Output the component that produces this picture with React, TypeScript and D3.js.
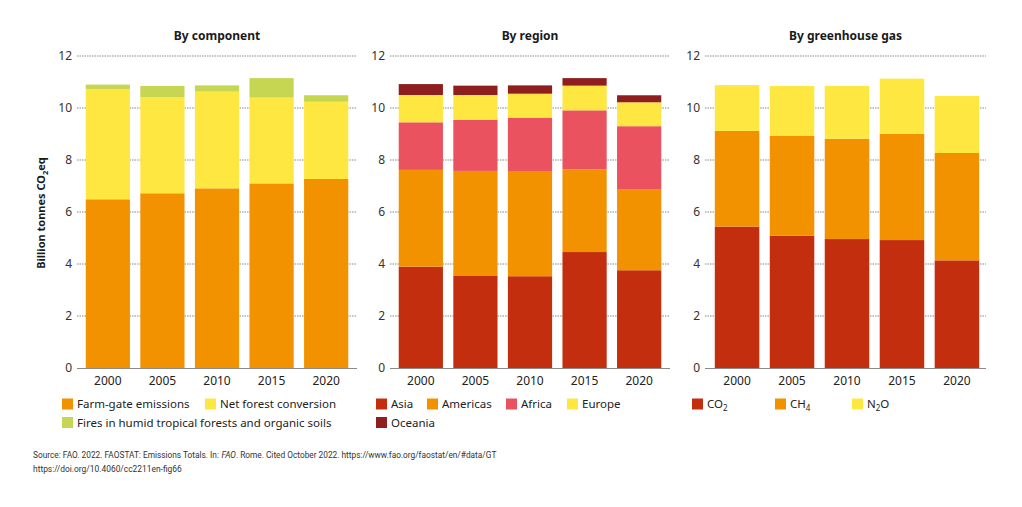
import React, { useRef, useEffect } from "react"
import * as d3 from "d3"

const years = ["2000", "2005", "2010", "2015", "2020"]
const yTicks = [0, 2, 4, 6, 8, 10, 12]

// By component
const farmGate = [6.49, 6.72, 6.91, 7.1, 7.27]
const netForest = [4.23, 3.69, 3.72, 3.3, 2.97]
const fires = [0.18, 0.44, 0.24, 0.75, 0.25]

// By region
const asia = [3.9, 3.56, 3.53, 4.46, 3.76]
const americas = [3.72, 4.02, 4.02, 3.18, 3.1]
const africa = [1.83, 1.97, 2.08, 2.27, 2.44]
const europe = [1.05, 0.95, 0.92, 0.95, 0.92]
const oceania = [0.42, 0.36, 0.32, 0.29, 0.27]

// By greenhouse gas
const co2 = [5.44, 5.09, 4.96, 4.92, 4.14]
const ch4 = [3.68, 3.85, 3.86, 4.09, 4.13]
const n2o = [1.76, 1.91, 2.03, 2.12, 2.19]

const sourceParts = [
  { text: "Source: FAO. 2022. FAOSTAT: Emissions Totals. In: ", italic: false },
  { text: "FAO", italic: true },
  { text: ". Rome. Cited October 2022. https://www.fao.org/faostat/en/#data/GT", italic: false },
]
const doiLine = "https://doi.org/10.4060/cc2211en-fig66"

const ORANGE = "#F39200"
const YELLOW = "#FFE742"
const GREEN = "#C6D653"
const RED = "#C32E0E"
const PINK = "#EB5260"
const DARKRED = "#8F1F1E"

type Series = { key: string; label: string; sub?: string; after?: string; color: string; values: number[] }
type LegendPos = { x: number; row: number }
type Panel = {
  title: string
  grid: [number, number]
  band: [number, number]
  series: Series[]
  legend: LegendPos[]
}

const panels: Panel[] = [
  {
    title: "By component",
    grid: [77, 357],
    band: [77, 357],
    series: [
      { key: "farm", label: "Farm-gate emissions", color: ORANGE, values: farmGate },
      { key: "forest", label: "Net forest conversion", color: YELLOW, values: netForest },
      { key: "fires", label: "Fires in humid tropical forests and organic soils", color: GREEN, values: fires },
    ],
    legend: [
      { x: 62, row: 0 },
      { x: 205, row: 0 },
      { x: 62, row: 1 },
    ],
  },
  {
    title: "By region",
    grid: [390, 670],
    band: [390, 670],
    series: [
      { key: "asia", label: "Asia", color: RED, values: asia },
      { key: "americas", label: "Americas", color: ORANGE, values: americas },
      { key: "africa", label: "Africa", color: PINK, values: africa },
      { key: "europe", label: "Europe", color: YELLOW, values: europe },
      { key: "oceania", label: "Oceania", color: DARKRED, values: oceania },
    ],
    legend: [
      { x: 376, row: 0 },
      { x: 427, row: 0 },
      { x: 506, row: 0 },
      { x: 567, row: 0 },
      { x: 376, row: 1 },
    ],
  },
  {
    title: "By greenhouse gas",
    grid: [705, 986],
    band: [706, 988],
    series: [
      { key: "co2", label: "CO", sub: "2", after: "", color: RED, values: co2 },
      { key: "ch4", label: "CH", sub: "4", after: "", color: ORANGE, values: ch4 },
      { key: "n2o", label: "N", sub: "2", after: "O", color: YELLOW, values: n2o },
    ],
    legend: [
      { x: 692, row: 0 },
      { x: 775, row: 0 },
      { x: 852, row: 0 },
    ],
  },
]

const FONT = "'Noto Sans', 'DejaVu Sans', sans-serif"
const NARROW = "'Liberation Sans Narrow', 'Roboto', sans-serif"
const W = 1022
const H = 507

function drawChart(svgEl: SVGSVGElement) {
  const svg = d3.select(svgEl)
  svg.selectAll("*").remove()

  const y = d3.scaleLinear().domain([0, 12]).range([368, 56])

  panels.forEach(panel => {
    const g = svg.append("g")
    const [gx0, gx1] = panel.grid

    const x = d3
      .scaleBand<string>()
      .domain(years)
      .range(panel.band)
      .paddingInner(0.19)
      .paddingOuter(0.16)

    // title
    g.append("text")
      .attr("x", (gx0 + gx1) / 2)
      .attr("y", 40)
      .attr("text-anchor", "middle")
      .attr("font-family", FONT)
      .attr("font-weight", 700)
      .attr("font-size", 12)
      .attr("fill", "#1a1a1a")
      .text(panel.title)

    // grid lines + y labels
    yTicks.forEach(t => {
      if (t > 0) {
        g.append("line")
          .attr("x1", gx0)
          .attr("x2", gx1)
          .attr("y1", y(t))
          .attr("y2", y(t))
          .attr("stroke", "#6b6b6b")
          .attr("stroke-width", 0.8)
          .attr("stroke-dasharray", "1.5,1")
      }
      g.append("text")
        .attr("x", gx0 - 5)
        .attr("y", y(t))
        .attr("dy", "0.35em")
        .attr("text-anchor", "end")
        .attr("font-family", FONT)
        .attr("font-size", 12)
        .attr("fill", "#333")
        .text(t)
    })

    // stacked bars
    const rows = years.map((yr, i) => {
      const row: any = { year: yr }
      panel.series.forEach(s => (row[s.key] = s.values[i]))
      return row
    })
    const stacked = d3.stack<any>().keys(panel.series.map(s => s.key))(rows)

    stacked.forEach((layer, li) => {
      g.append("g")
        .attr("fill", panel.series[li].color)
        .selectAll("rect")
        .data(layer)
        .join("rect")
        .attr("x", d => x(d.data.year) as number)
        .attr("width", x.bandwidth())
        .attr("y", d => y(d[1]))
        .attr("height", d => y(d[0]) - y(d[1]))
    })

    // baseline
    g.append("line")
      .attr("x1", gx0)
      .attr("x2", gx1)
      .attr("y1", y(0) + 0.5)
      .attr("y2", y(0) + 0.5)
      .attr("stroke", "#8a8a8a")
      .attr("stroke-width", 1)

    // x labels
    g.selectAll("text.xl")
      .data(years)
      .join("text")
      .attr("class", "xl")
      .attr("x", d => (x(d) as number) + x.bandwidth() / 2)
      .attr("y", 385)
      .attr("text-anchor", "middle")
      .attr("font-family", FONT)
      .attr("font-size", 12)
      .attr("fill", "#222")
      .text(d => d)

    // legend
    panel.series.forEach((s, i) => {
      const pos = panel.legend[i]
      const cy = 404 + pos.row * 18.5
      g.append("rect")
        .attr("x", pos.x)
        .attr("y", cy - 5.5)
        .attr("width", 11)
        .attr("height", 11)
        .attr("fill", s.color)
      const t = g
        .append("text")
        .attr("x", pos.x + 15)
        .attr("y", cy)
        .attr("dy", "0.35em")
        .attr("font-family", FONT)
        .attr("font-size", 11.5)
        .attr("fill", "#222")
      t.append("tspan").text(s.label)
      if (s.sub) {
        t.append("tspan").attr("font-size", 8).attr("dy", 3).text(s.sub)
        if (s.after) t.append("tspan").attr("dy", -3).text(s.after)
      }
    })
  })

  // y axis title
  const yt = svg
    .append("text")
    .attr("transform", "translate(45,213) rotate(-90)")
    .attr("text-anchor", "middle")
    .attr("font-family", FONT)
    .attr("font-weight", 700)
    .attr("font-size", 11)
    .attr("fill", "#1a1a1a")
  yt.append("tspan").text("Billion tonnes CO")
  yt.append("tspan").attr("font-size", 7.5).attr("dy", 2.5).text("2")
  yt.append("tspan").attr("dy", -2.5).text("eq")

  // source, first line: pieces measured and scaled to fit the width
  const srcNodes = sourceParts.map(p =>
    svg
      .append("text")
      .attr("y", 458)
      .attr("xml:space", "preserve")
      .style("white-space", "pre")
      .attr("font-family", NARROW)
      .attr("font-size", 10)
      .attr("font-style", p.italic ? "italic" : "normal")
      .attr("fill", "#333")
      .text(p.text)
  )
  const widths = srcNodes.map(n => (n.node() as SVGTextElement).getComputedTextLength())
  const total = d3.sum(widths) || 1
  const k = 464 / total
  let cx = 33
  srcNodes.forEach((n, i) => {
    n.attr("font-size", 10 * k).attr("x", cx)
    cx += widths[i] * k
  })

  const doi = svg
    .append("text")
    .attr("x", 33)
    .attr("y", 472)
    .attr("font-family", NARROW)
    .attr("font-size", 10)
    .attr("fill", "#333")
    .text(doiLine)
  const dw = (doi.node() as SVGTextElement).getComputedTextLength() || 1
  doi.attr("font-size", (10 * 149) / dw)
}

export default function App() {
  const ref = useRef<SVGSVGElement>(null)

  useEffect(() => {
    if (ref.current) drawChart(ref.current)
  }, [])

  return (
    <svg
      ref={ref}
      width={W}
      height={H}
      style={{ position: "absolute", left: 0, top: 0, background: "#fff" }}
    />
  )
}
